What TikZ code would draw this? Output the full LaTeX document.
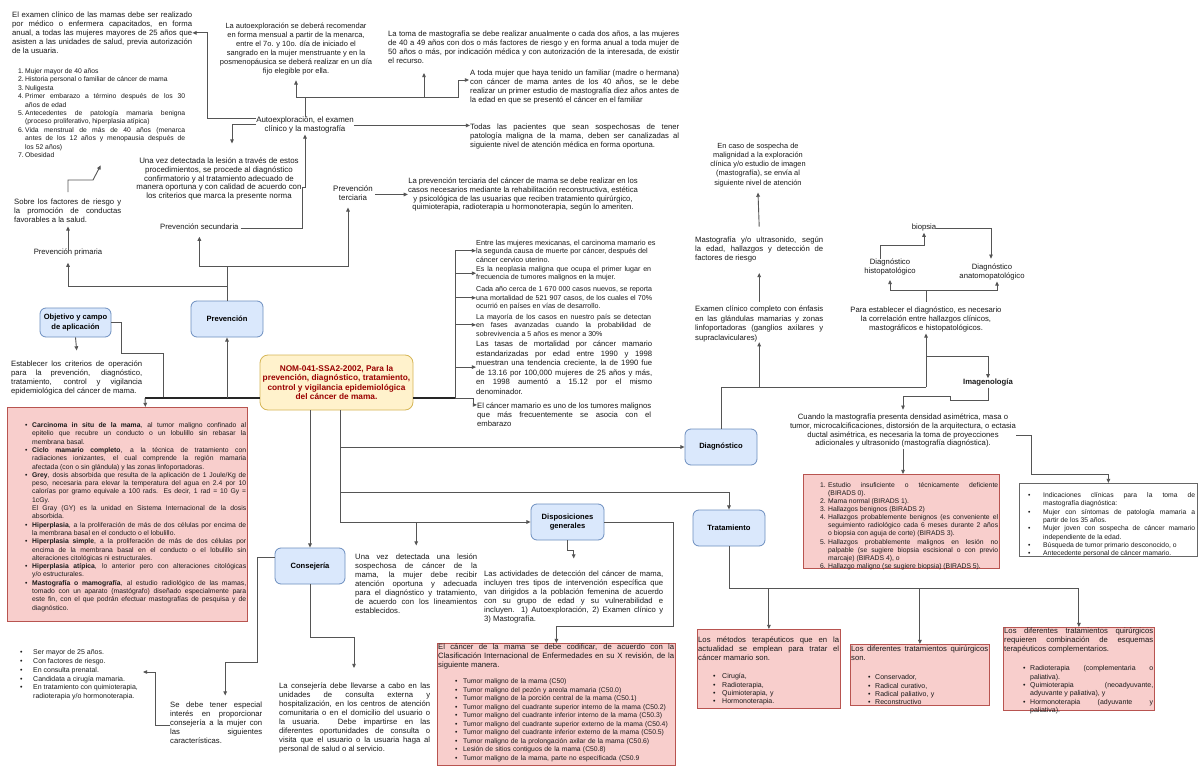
\documentclass[tikz,border=0pt]{standalone}
\usepackage{fontspec}
\setmainfont{Liberation Sans}
\usetikzlibrary{arrows.meta}
\definecolor{lc}{HTML}{555555}
\definecolor{bfill}{HTML}{DAE8FC}
\definecolor{bdraw}{HTML}{6C8EBF}
\definecolor{rfill}{HTML}{F8CECC}
\definecolor{rdraw}{HTML}{B85450}
\definecolor{yfill}{HTML}{FFF2CC}
\definecolor{ydraw}{HTML}{D6B656}
\definecolor{nomtxt}{HTML}{990000}
\definecolor{txt}{HTML}{1A1A1A}
\newcommand{\fA}{\fontsize{7.7}{9}\selectfont}
\newcommand{\fB}{\fontsize{6.8}{8.3}\selectfont}
\newcommand{\bul}[1][7pt]{\par\noindent\hangindent=#1\hangafter=1\makebox[#1][l]{\textbullet}\strut}
\newcommand{\nit}[2][7pt]{\par\noindent\hangindent=#1\hangafter=1\makebox[#1][l]{#2}\strut}
\hyphenpenalty=10000 \exhyphenpenalty=10000 \tolerance=9999
\setlength{\parindent}{0pt}
\begin{document}
\begin{tikzpicture}[x=1pt,y=-1pt,
 ln/.style={draw=lc,line width=0.9pt},
 ar/.style={draw=lc,line width=0.9pt,-{Triangle[length=4.2pt,width=3.6pt]}},
 thk/.style={draw=black!85,line width=1.5pt},
 tx/.style={inner sep=0pt,anchor=north west,align=justify,font=\fA,text=txt,execute at begin node=\strut},
 lst/.style={inner sep=0pt,anchor=north west,align=justify,text=txt},
 ctx/.style={inner sep=0pt,anchor=north,align=center,font=\fA,text=txt,execute at begin node=\strut},
 one/.style={inner sep=0pt,font=\fA,text=txt,execute at begin node=\strut},
 bbox/.style={draw=bdraw,fill=bfill,rounded corners=6pt,line width=0.8pt,align=center,inner sep=0pt,font=\bfseries\fontsize{7.6}{9.2}\selectfont,minimum width=72pt,minimum height=36pt},
 rbox/.style={draw=rdraw,fill=rfill,line width=0.8pt,inner sep=0pt,anchor=north west},
]
\fill[white] (0,0) rectangle (1200,768);
\useasboundingbox (0,0) rectangle (1200,768);

% ---------- boxes ----------
\node[rbox,minimum width=240pt,minimum height=214pt] (DEF) at (7,407) {};
\node[rbox,minimum width=238pt,minimum height=122pt] (ICD) at (437,643) {};
\node[rbox,minimum width=196pt,minimum height=94pt] (BIR) at (803,474) {};
\node[rbox,draw=black!60,fill=white,minimum width=178pt,minimum height=73pt] (IND) at (1019,483) {};
\node[rbox,minimum width=143pt,minimum height=79pt] (TR1) at (697,629) {};
\node[rbox,minimum width=139pt,minimum height=61pt] (TR2) at (850,644) {};
\node[rbox,minimum width=151pt,minimum height=83pt] (TR3) at (1003,627) {};

\node[bbox,minimum width=71pt,minimum height=29pt] (OBJ) at (75.5,322.5) {Objetivo y campo\\de aplicación};
\node[bbox] (PREV) at (227,319) {Prevención};
\node[bbox] (DIAG) at (721,447) {Diagnóstico};
\node[bbox] (TRAT) at (729,528) {Tratamiento};
\node[bbox,minimum width=73pt] (DISP) at (567.5,522) {Disposiciones\\generales};
\node[bbox,minimum width=70pt] (CONS) at (310,566) {Consejería};
\node[draw=ydraw,fill=yfill,rounded corners=8pt,line width=0.8pt,minimum width=153pt,minimum height=55pt,inner sep=0pt,align=center,text=nomtxt,font=\bfseries\fontsize{8.3}{9.6}\selectfont] (NOM) at (336.5,382.5) {NOM-041-SSA2-2002, Para la\\prevención, diagnóstico, tratamiento,\\control y vigilancia epidemiológica\\del cáncer de mama.};

% ---------- top-left texts ----------
\node[tx,text width=180pt] (T1) at (12,11.5) {El examen clínico de las mamas debe ser realizado\linebreak por médico o enfermera capacitados, en forma\linebreak anual, a todas las mujeres mayores de 25 años que\linebreak asisten a las unidades de salud, previa autorización\linebreak de la usuaria.};
\node[lst,font=\fontsize{6.8}{8.4}\selectfont,text width=167pt] (T2) at (18,65) {\nit{1.}Mujer mayor de 40 años\nit{2.}Historia personal o familiar de cáncer de mama\nit{3.}Nuligesta\nit{4.}Primer embarazo a término después de los 30\linebreak años de edad\nit{5.}Antecedentes de patología mamaria benigna\linebreak (proceso proliferativo, hiperplasia atípica)\nit{6.}Vida menstrual de más de 40 años (menarca\linebreak antes de los 12 años y menopausia después de\linebreak los 52 años)\nit{7.}Obesidad\par};
\node[tx,text width=107pt] (T3) at (14,197.7) {Sobre los factores de riesgo y\linebreak la promoción de conductas\linebreak favorables a la salud.};
\node[one] (PP) at (68,253) {Prevención primaria};
\node[ctx,font=\fontsize{7.5}{9}\selectfont] (T4) at (296,22.7) {La autoexploración se deberá recomendar\\en forma mensual a partir de la menarca,\\entre el 7o. y 10o. día de iniciado el\\sangrado en la mujer menstruante y en la\\posmenopáusica se deberá realizar en un día\\fijo elegible por ella.};
\node[ctx,font=\fontsize{7.9}{9}\selectfont] (AU) at (305,116.5) {Autoexploración, el examen\\clínico y la mastografía};
\node[ctx,font=\fontsize{7.9}{8.8}\selectfont] (T8) at (219,157.5) {Una vez detectada la lesión a través de estos\\procedimientos, se procede al diagnóstico\\confirmatorio y al tratamiento adecuado de\\manera oportuna y con calidad de acuerdo con\\los criterios que marca la presente norma};
\node[one,anchor=west] (PS) at (160,228) {Prevención secundaria};
\node[tx,text width=291pt] (T5) at (388,29.7) {La toma de mastografía se debe realizar anualmente o cada dos años, a las mujeres\linebreak de 40 a 49 años con dos o más factores de riesgo y en forma anual a toda mujer de\linebreak 50 años o más, por indicación médica y con autorización de la interesada, de existir\linebreak el recurso.};
\node[tx,text width=209pt] (T6) at (470,68.7) {A toda mujer que haya tenido un familiar (madre o hermana)\linebreak con cáncer de mama antes de los 40 años, se le debe\linebreak realizar un primer estudio de mastografía diez años antes de\linebreak la edad en que se presentó el cáncer en el familiar};
\node[tx,text width=209pt] (T7) at (470,122.7) {Todas las pacientes que sean sospechosas de tener\linebreak patología maligna de la mama, deben ser canalizadas al\linebreak siguiente nivel de atención médica en forma oportuna.};
\node[ctx,font=\fontsize{7.9}{9}\selectfont] (PT) at (353,185.5) {Prevención\\terciaria};
\node[ctx,font=\fontsize{7.7}{8.8}\selectfont] (T10) at (523,177.7) {La prevención terciaria del cáncer de mama se debe realizar en los\\casos necesarios mediante la rehabilitación reconstructiva, estética\\y psicológica de las usuarias que reciben tratamiento quirúrgico,\\quimioterapia, radioterapia u hormonoterapia, según lo ameriten.};

% ---------- left middle ----------
\node[tx,text width=131pt] (Tobj) at (11,359.5) {Establecer los criterios de operación\linebreak para la prevención, diagnóstico,\linebreak tratamiento, control y vigilancia\linebreak epidemiológica del cáncer de mama.};
\node[lst,font=\fB,text width=221pt] (DEFt) at (25,419) {%
\bul\textbf{Carcinoma in situ de la mama}, al tumor maligno confinado al\linebreak epitelio que recubre un conducto o un lobulillo sin rebasar la\linebreak membrana basal.%
\bul\textbf{Ciclo mamario completo}, a la técnica de tratamiento con\linebreak radiaciones ionizantes, el cual comprende la región mamaria\linebreak afectada (con o sin glándula) y las zonas linfoportadoras.%
\bul\textbf{Grey}, dosis absorbida que resulta de la aplicación de 1 Joule/Kg de\linebreak peso, necesaria para elevar la temperatura del agua en 2.4 por 10\linebreak calorías por gramo equivale a 100 rads. Es decir, 1 rad = 10 Gy =\linebreak 1cGy.\newline El Gray (GY) es la unidad en Sistema Internacional de la dosis\linebreak absorbida.%
\bul\textbf{Hiperplasia}, a la proliferación de más de dos células por encima de\linebreak la membrana basal en el conducto o el lobulillo.%
\bul\textbf{Hiperplasia simple}, a la proliferación de más de dos células por\linebreak encima de la membrana basal en el conducto o el lobulillo sin\linebreak alteraciones citológicas ni estructurales.%
\bul\textbf{Hiperplasia atípica}, lo anterior pero con alteraciones citológicas\linebreak y/o estructurales.%
\bul\textbf{Mastografía o mamografía}, al estudio radiológico de las mamas,\linebreak tomado con un aparato (mastógrafo) diseñado especialmente para\linebreak este fin, con el que podrán efectuar mastografías de pesquisa y de\linebreak diagnóstico.\par};

% ---------- statistics ----------
\node[inner sep=0pt,anchor=north west,text=txt,font=\fontsize{7.3}{8.5}\selectfont,align=left] (S1) at (476,239) {\strut Entre las mujeres mexicanas, el carcinoma mamario es\\la segunda causa de muerte por cáncer, después del\\cáncer cervico uterino.};
\node[tx,font=\fontsize{7.1}{8.6}\selectfont,text width=175pt] (S2) at (476,265) {Es la neoplasia maligna que ocupa el primer lugar en\linebreak frecuencia de tumores malignos en la mujer.};
\node[tx,font=\fontsize{7.1}{8.8}\selectfont,text width=176pt] (S3) at (476,285) {Cada año cerca de 1 670 000 casos nuevos, se reporta\linebreak una mortalidad de 521 907 casos, de los cuales el 70\%\linebreak ocurrió en países en vías de desarrollo.};
\node[tx,font=\fontsize{7.1}{8.6}\selectfont,text width=175pt] (S4) at (476,313) {La mayoría de los casos en nuestro país se detectan\linebreak en fases avanzadas cuando la probabilidad de\linebreak sobrevivencia a 5 años es menor a 30\%};
\node[tx,font=\fontsize{7.7}{9.6}\selectfont,text width=176pt] (S5) at (476,339.5) {Las tasas de mortalidad por cáncer mamario\linebreak estandarizadas por edad entre 1990 y 1998\linebreak muestran una tendencia creciente, la de 1990 fue\linebreak de 13.16 por 100,000 mujeres de 25 años y más,\linebreak en 1998 aumentó a 15.12 por el mismo\linebreak denominador.};
\node[tx,text width=174pt] (S6) at (477,401.5) {El cáncer mamario es uno de los tumores malignos\linebreak que más frecuentemente se asocia con el\linebreak embarazo};

% ---------- bottom middle ----------
\node[tx,text width=122pt] (UVD) at (355,552.5) {Una vez detectada una lesión\linebreak sospechosa de cáncer de la\linebreak mama, la mujer debe recibir\linebreak atención oportuna y adecuada\linebreak para el diagnóstico y tratamiento,\linebreak de acuerdo con los lineamientos\linebreak establecidos.};
\node[tx,text width=179pt] (LAS) at (484,569.5) {Las actividades de detección del cáncer de mama,\linebreak incluyen tres tipos de intervención específica que\linebreak van dirigidos a la población femenina de acuerdo\linebreak con su grupo de edad y su vulnerabilidad e\linebreak incluyen. 1) Autoexploración, 2) Examen clínico y\linebreak 3) Mastografía.};
\node[tx,text width=236pt] (ICDt) at (438,642.7) {El cáncer de la mama se debe codificar, de acuerdo con la\linebreak Clasificación Internacional de Enfermedades en su X revisión, de la\linebreak siguiente manera.};
\node[lst,font=\fontsize{6.8}{8.5}\selectfont,text width=222pt,align=left] (ICDb) at (455,675) {\bul[8pt]Tumor maligno de la mama (C50)\bul[8pt]Tumor maligno del pezón y areola mamaria (C50.0)\bul[8pt]Tumor maligno de la porción central de la mama (C50.1)\bul[8pt]Tumor maligno del cuadrante superior interno de la mama (C50.2)\bul[8pt]Tumor maligno del cuadrante inferior interno de la mama (C50.3)\bul[8pt]Tumor maligno del cuadrante superior externo de la mama (C50.4)\bul[8pt]Tumor maligno del cuadrante inferior externo de la mama (C50.5)\bul[8pt]Tumor maligno de la prolongación axilar de la mama (C50.6)\bul[8pt]Lesión de sitios contiguos de la mama (C50.8)\bul[8pt]Tumor maligno de la mama, parte no especificada (C50.9\par};
\node[tx,text width=151pt] (LAC) at (279,681.5) {La consejería debe llevarse a cabo en las\linebreak unidades de consulta externa y\linebreak hospitalización, en los centros de atención\linebreak comunitaria o en el domicilio del usuario o\linebreak la usuaria. Debe impartirse en las\linebreak diferentes oportunidades de consulta o\linebreak visita que el usuario o la usuaria haga al\linebreak personal de salud o al servicio.};
\node[tx,text width=92pt] (SE) at (170,700.5) {Se debe tener especial\linebreak interés en proporcionar\linebreak consejería a la mujer con\linebreak las siguientes\linebreak características.};
\node[lst,font=\fontsize{7}{8.7}\selectfont,text width=135pt] (CL) at (20,646) {\bul[13pt]Ser mayor de 25 años.\bul[13pt]Con factores de riesgo.\bul[13pt]En consulta prenatal.\bul[13pt]Candidata a cirugía mamaria.\bul[13pt]En tratamiento con quimioterapia,\newline radioterapia y/o hormonoterapia.\par};

% ---------- right: diagnosis ----------
\node[ctx,font=\fontsize{7.4}{9.2}\selectfont] (ENC) at (758,142.7) {En caso de sospecha de\\malignidad a la exploración\\clínica y/o estudio de imagen\\(mastografía), se envía al\\siguiente nivel de atención};
\node[tx,text width=128pt] (MAS) at (695,235.7) {Mastografía y/o ultrasonido, según\linebreak la edad, hallazgos y detección de\linebreak factores de riesgo};
\node[tx,text width=128pt,font=\fontsize{7.7}{9.6}\selectfont] (EXC) at (695,304.7) {Examen clínico completo con énfasis\linebreak en las glándulas mamarias y zonas\linebreak linfoportadoras (ganglios axilares y\linebreak supraclaviculares)};
\node[one] (BIO) at (924,228) {biopsia};
\node[ctx] (HIS) at (890,258.7) {Diagnóstico\\histopatológico};
\node[ctx] (ANA) at (992,263.7) {Diagnóstico\\anatomopatológico};
\node[ctx] (PARA) at (926,306.7) {Para establecer el diagnóstico, es necesario\\la correlación entre hallazgos clínicos,\\mastográficos e histopatológicos.};
\node[one,font=\bfseries\fontsize{7.7}{9}\selectfont] (IMG) at (988,383) {Imagenología};
\node[ctx,font=\fontsize{7.7}{8.8}\selectfont] (CUA) at (903,413.7) {Cuando la mastografía presenta densidad asimétrica, masa o\\tumor, microcalcificaciones, distorsión de la arquitectura, o ectasia\\ductal asimétrica, es necesaria la toma de proyecciones\\adicionales y ultrasonido (mastografía diagnóstica).};
\node[lst,font=\fontsize{6.8}{8.1}\selectfont,text width=178pt] (BIRt) at (820,479) {\nit[8pt]{1.}Estudio insuficiente o técnicamente deficiente\linebreak (BIRADS 0).\nit[8pt]{2.}Mama normal (BIRADS 1).\nit[8pt]{3.}Hallazgos benignos (BIRADS 2)\nit[8pt]{4.}Hallazgos probablemente benignos (es conveniente el\linebreak seguimiento radiológico cada 6 meses durante 2 años\linebreak o biopsia con aguja de corte) (BIRADS 3).\nit[8pt]{5.}Hallazgos probablemente malignos en lesión no\linebreak palpable (se sugiere biopsia escisional o con previo\linebreak marcaje) (BIRADS 4), o\nit[8pt]{6.}Hallazgo maligno (se sugiere biopsia) (BIRADS 5).\par};
\node[lst,font=\fontsize{6.8}{8.3}\selectfont,text width=167pt] (INDt) at (1028,489) {\bul[15pt]Indicaciones clínicas para la toma de\linebreak mastografía diagnóstica:\bul[15pt]Mujer con síntomas de patología mamaria a\linebreak partir de los 35 años.\bul[15pt]Mujer joven con sospecha de cáncer mamario\linebreak independiente de la edad.\bul[15pt]Búsqueda de tumor primario desconocido, o\bul[15pt]Antecedente personal de cáncer mamario.\par};

% ---------- right: treatment ----------
\node[tx,text width=141pt] (TR1t) at (698,635.7) {Los métodos terapéuticos que en la\linebreak actualidad se emplean para tratar el\linebreak cáncer mamario son.};
\node[lst,font=\fontsize{7}{8.4}\selectfont,text width=120pt,align=left] (TR1b) at (713,670) {\bul[9pt]Cirugía,\bul[9pt]Radioterapia,\bul[9pt]Quimioterapia, y\bul[9pt]Hormonoterapia.\par};
\node[tx,text width=137pt] (TR2t) at (851,644.7) {Los diferentes tratamientos quirúrgicos\linebreak son.};
\node[lst,font=\fontsize{7}{8.4}\selectfont,text width=115pt,align=left] (TR2b) at (868,671) {\bul[7pt]Conservador,\bul[7pt]Radical curativo,\bul[7pt]Radical paliativo, y\bul[7pt]Reconstructivo\par};
\node[tx,text width=149pt] (TR3t) at (1004,626.7) {Los diferentes tratamientos quirúrgicos\linebreak requieren combinación de esquemas\linebreak terapéuticos complementarios.};
\node[lst,font=\fontsize{7}{8.4}\selectfont,text width=130pt] (TR3b) at (1023,662) {\bul[7pt]Radioterapia (complementaria o\linebreak paliativa).\bul[7pt]Quimioterapia (neoadyuvante,\linebreak adyuvante y paliativa), y\bul[7pt]Hormonoterapia (adyuvante y\linebreak paliativa).\par};

% ---------- coordinates ----------
\coordinate (aj) at (305,97);
\coordinate (t5in) at (424,73);
\coordinate (t6in) at (469,80);
\coordinate (pj1) at (227,266);
\coordinate (lj) at (145,398);
\coordinate (trunk) at (455,398);
\coordinate (t2) at (340,410);
\coordinate (t3) at (340,492);
\coordinate (lacin) at (354,668);
\coordinate (clin) at (143,672);
\coordinate (dj) at (721,387);
\coordinate (pj) at (926,356);
\coordinate (hj) at (926,290);
\coordinate (tj) at (729,588);

% ---------- connectors: top ----------
\draw[ar] ([yshift=7pt]AU.west) -| ([xshift=15pt]T1.east) -- (T1.east);
\draw[ar] ([yshift=1pt]AU.west) -| ([xshift=13pt,yshift=14pt]T8.north);
\draw[ln] (AU.north) -- (aj);
\draw[ar] (aj) -| ([yshift=-4pt]T4.south);
\draw[ar] (aj) -| (t5in);
\draw[ar] (aj) -| (458,80) -- (t6in);
\draw[ar] (AU.east) -- (T7.west |- AU.east);
\draw[ar] ([xshift=2pt]PS.east) -| (302,187) -| (AU.south);
\draw[ar] (PREV.north) |- (68,286) -- ([yshift=-5pt]PP.south);
\draw[ln] (PREV.north) -- (pj1);
\draw[ar] (pj1) -| ([yshift=-4pt]PS.south);
\draw[ar] (pj1) -| ([xshift=-5pt,yshift=-4pt]PT.south);
\draw[ar] ([xshift=2pt]PT.east) -- (T10.west |- PT.east);
\draw[ar] (68,192) -- (68,180) -- (93,180) -- ([xshift=-1pt,yshift=-5pt]T2.south);
\draw[ar] ([yshift=-3pt]PP.north) -- ([yshift=-4pt]T3.south -| PP.north);

% ---------- connectors: left ----------
\draw[ln] (OBJ.east) -| (121,353) -| (163,398);
\draw[ar] (OBJ.south) -- ([yshift=9pt]Tobj.north);
\draw[thk] ([yshift=-15.5pt]NOM.west) -- (lj);
\draw[ar] (lj) -- ([xshift=18pt]DEF.north);
\draw[ar] (PREV.south |- lj) -- (PREV.south);

% ---------- connectors: NOM right ----------
\draw[thk] ([yshift=-15.5pt]NOM.east) -- (trunk);
\draw[ln] (trunk) -- (trunk |- S1.west);
\foreach \s in {S1,S2,S3,S4,S5} \draw[ar] (\s.west -| trunk) -- (\s.west);
\draw[ar] (trunk) -| ([xshift=-4pt,yshift=9pt]S6.west) -- ([yshift=9pt]S6.west);

% ---------- connectors: NOM bottom ----------
\draw[ar] (CONS.north |- NOM.south) -- (CONS.north);
\draw[ln] (t2) -- (t2 |- DISP.west);
\draw[ar] (DIAG.west -| t2) -- (DIAG.west);
\draw[ar] (t3) -| (TRAT.north);
\draw[ar] (DISP.west -| t2) -- (DISP.west);
\draw[ar] (UVD.north |- DISP.west) -- ([yshift=7pt]UVD.north);
\draw[ar] (DISP.south) |- ([yshift=19pt]LAS.north) -- ([yshift=11pt]LAS.north);
\draw[ar] (DISP.east) -| (673,626) -| (ICD.north);
\draw[ar] (CONS.south) |- (354,637) -- (lacin);
\draw[ar] ([yshift=9pt]CONS.west) -| (257,662) -| ([xshift=9pt,yshift=5pt]SE.north);
\draw[ar] ([yshift=-4pt]SE.west) -| (155,672) -- (clin);

% ---------- connectors: diagnosis ----------
\draw[ln] (DIAG.north) -- (dj) -- (926,387);
\draw[ar] (EXC.south |- dj) -- (EXC.south);
\draw[ar] (PARA.south |- dj) -- (PARA.south);
\draw[ar] (pj) -| (IMG.north);
\draw[ar] ([yshift=3pt]EXC.north) -- ([yshift=-11pt]MAS.south);
\draw[ar] ([yshift=9pt]MAS.north) -- ([yshift=-4.5pt]ENC.south);
\draw[ar] ([yshift=5pt]PARA.north) -- (hj) -| ([yshift=-3.5pt]HIS.south);
\draw[ar] (hj) -| ([xshift=5pt]ANA.south);
\draw[ar] ([xshift=-10pt]HIS.north) |- ([yshift=-12.5pt]BIO.south) -- (BIO.south);
\draw[ar] (BIO.east) -| ([xshift=-1pt,yshift=5pt]ANA.north);
\draw[ar] (IMG.south) |- (950,400) |- (903,396) -- ([yshift=4pt]CUA.north);
\draw[ar] ([yshift=-4.5pt]CUA.east) -| (1031,474) -| (IND.north);
\draw[ar] (CUA.south) -- (CUA.south |- BIR.north);

% ---------- connectors: treatment ----------
\draw[ln] (TRAT.south) -- (tj) -- (TR3.north |- tj);
\draw[ar] (tj) -| (TR1.north);
\draw[ar] (tj) -| (TR2.north);
\draw[ar] (tj) -| (TR3.north);
\end{tikzpicture}
\end{document}
